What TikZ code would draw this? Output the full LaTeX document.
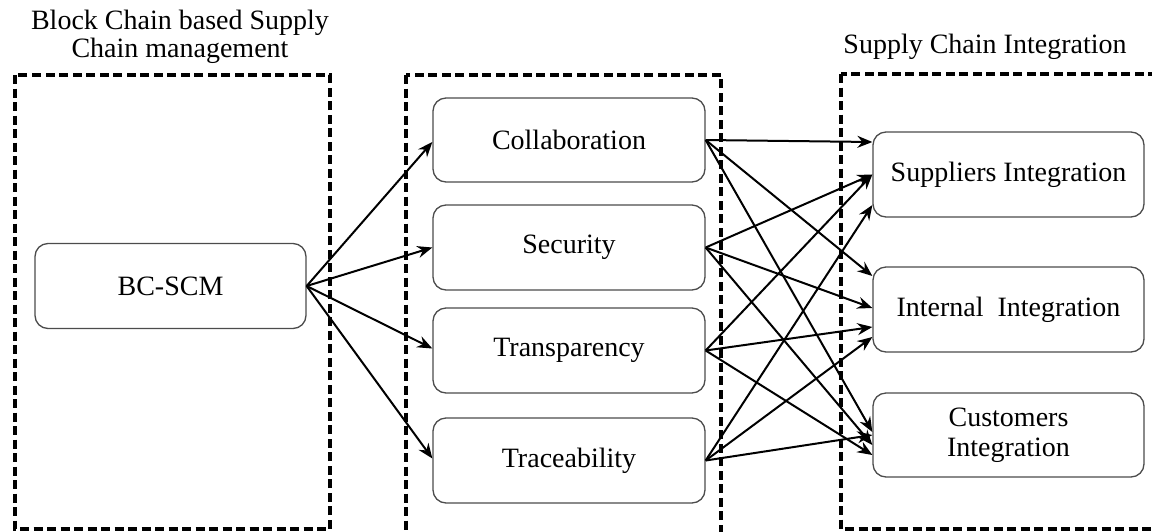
\documentclass[tikz,border=0pt]{standalone}
\usepackage{fontspec}
\setmainfont{Liberation Serif}
\usetikzlibrary{arrows.meta}
\begin{document}
\begin{tikzpicture}[x=1pt,y=-1pt,
  txt/.style={font=\fontsize{28}{28}\selectfont},
  box/.style={draw=black!70, line width=1.3pt, rounded corners=13pt, fill=white,
    minimum width=271pt, minimum height=85pt, align=center, inner sep=0pt,
    font=\fontsize{28}{30}\selectfont},
  group/.style={draw=black, line width=3.6pt, dash pattern=on 9pt off 4.5pt},
  link/.style={draw=black, line width=2pt, -{Stealth[length=15pt,width=12pt,inset=5pt]}}]
\useasboundingbox (0,0) rectangle (1152,531);
% group frames
\draw[group] (15,75) rectangle (330,529);
\draw[group] (406,75) rectangle (721,545);
\draw[group] (841,74) rectangle (1165,529);
% titles
\node[txt, align=center] (t1) at (180,37) {Block Chain based Supply\\Chain management};
\node[txt, anchor=base] (t2) at (985,53) {Supply Chain Integration};
% nodes
\node[box] (bc) at (170.5,286) {BC-SCM};
\node[box, minimum width=272pt, minimum height=84pt] (col) at (569,140) {Collaboration};
\node[box, minimum width=272pt] (sec) at (569,247.5) {Security};
\node[box, minimum width=272pt] (tra) at (569,350.5) {Transparency};
\node[box, minimum width=272pt] (trc) at (569,460.5) {Traceability};
\node[box] (sup) at (1008.5,174.5) {Suppliers Integration};
\node[box] (int) at (1008.5,309.5) {Internal~~Integration};
\node[box, minimum height=84pt] (cus) at (1008.5,435) {Customers\\Integration};
% left fan
\draw[link] (bc.east) -- ([yshift=-2pt]col.west);
\draw[link] (bc.east) -- (sec.west);
\draw[link] (bc.east) -- ([yshift=2pt]tra.west);
\draw[link] (bc.east) -- ([yshift=2pt]trc.west);
% to suppliers
\draw[link] (col.east) -- ([yshift=32.5pt]sup.west);
\draw[link] (sec.east) -- (sup.west);
\draw[link] (tra.east) -- (sup.west);
\draw[link] (trc.east) -- ([yshift=-30.5pt]sup.west);
% to internal
\draw[link] (col.east) -- ([yshift=33.5pt]int.west);
\draw[link] (sec.east) -- ([yshift=1.5pt]int.west);
\draw[link] (tra.east) -- ([yshift=-17.5pt]int.west);
\draw[link] (trc.east) -- ([yshift=-27.5pt]int.west);
% to customers
\draw[link] (col.east) -- ([yshift=3pt]cus.west);
\draw[link] (sec.east) -- ([yshift=-10pt]cus.west);
\draw[link] (tra.east) -- ([yshift=-20pt]cus.west);
\draw[link] (trc.east) -- (cus.west);
\end{tikzpicture}
\end{document}
